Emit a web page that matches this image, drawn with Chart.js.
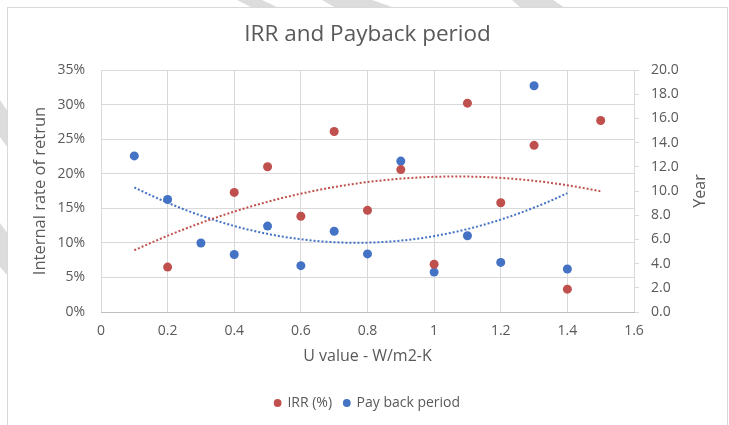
<!DOCTYPE html>
<html>
<head>
<meta charset="utf-8">
<title>IRR and Payback period</title>
<script src="https://cdn.jsdelivr.net/npm/chart.js@4.4.0/dist/chart.umd.min.js"></script>
<style>
  html, body { margin: 0; padding: 0; background: #fff; }
  #wrap { position: relative; width: 729px; height: 425px; overflow: hidden; }
  #marks { position: absolute; left: 0; top: 0; }
  #frame { position: absolute; left: 7px; top: 7px; width: 721px; height: 430px; border: 1px solid #d9d9d9; background: #fff; box-sizing: border-box; }
  #chart-area { position: absolute; left: 0; top: 0; }
</style>
</head>
<body>
<div id="wrap">
  <svg id="marks" width="729" height="425">
    <g fill="#dcdcdc">
      <polygon points="237,0 262,0 279,8 253,8"/>
      <polygon points="322,0 372,0 395,8 336,8"/>
      <polygon points="512,0 553,0 565,8 521,8"/>
      <polygon points="0,100 8,112 8,148 0,137"/>
      <polygon points="0,223 8,234 8,276 0,267"/>
    </g>
  </svg>
  <div id="frame"></div>
  <canvas id="chart-area" width="729" height="425"></canvas>
</div>
<script>
// U value (W/m2-K) for each case
var uValues = [0.1, 0.2, 0.3, 0.4, 0.5, 0.6, 0.7, 0.8, 0.9, 1.0, 1.1, 1.2, 1.3, 1.4, 1.5];
// IRR in %, left axis
var irrValues = [null, 6.5, null, 17.3, 21.0, 13.85, 26.1, 14.7, 20.6, 6.9, 30.2, 15.8, 24.1, 3.3, 27.7];
// pay back period in years, right axis
var paybackValues = [12.9, 9.3, 5.7, 4.75, 7.1, 3.83, 6.67, 4.8, 12.47, 3.3, 6.3, 4.1, 18.7, 3.55, null];
// x range covered by each trendline
var irrTrendSpan = [0.1, 1.5];
var paybackTrendSpan = [0.1, 1.4];

var red = "#C0504D";
var blue = "#4472C4";
var grey = "#595959";
var fontFamily = "'Open Sans', sans-serif";

var toPoints = function (xs, ys) {
    var pts = [];
    for (var i = 0; i < xs.length; i++) {
        if (ys[i] !== null) pts.push({ x: xs[i], y: ys[i] });
    }
    return pts;
};

// 2nd order polynomial least squares fit, sampled over the span
var polyTrend = function (pts, span) {
    var s = [0, 0, 0, 0, 0], t = [0, 0, 0];
    pts.forEach(function (p) {
        for (var k = 0; k < 5; k++) s[k] += Math.pow(p.x, k);
        for (var k = 0; k < 3; k++) t[k] += Math.pow(p.x, k) * p.y;
    });
    var m = [[s[0], s[1], s[2], t[0]], [s[1], s[2], s[3], t[1]], [s[2], s[3], s[4], t[2]]];
    for (var i = 0; i < 3; i++) {
        for (var j = i + 1; j < 3; j++) {
            var f = m[j][i] / m[i][i];
            for (var k = i; k < 4; k++) m[j][k] -= f * m[i][k];
        }
    }
    var c = [0, 0, 0];
    for (var i = 2; i >= 0; i--) {
        var v = m[i][3];
        for (var k = i + 1; k < 3; k++) v -= m[i][k] * c[k];
        c[i] = v / m[i][i];
    }
    var out = [];
    var steps = 60;
    for (var n = 0; n <= steps; n++) {
        var x = span[0] + (span[1] - span[0]) * n / steps;
        out.push({ x: x, y: c[0] + c[1] * x + c[2] * x * x });
    }
    return out;
};

var irrPoints = toPoints(uValues, irrValues);
var paybackPoints = toPoints(uValues, paybackValues);

// "Year" reads bottom to top, like the left title
var rightTitle = {
    id: 'rightTitle',
    afterDraw: function (chart) {
        var sc = chart.scales.y1;
        var ctx = chart.ctx;
        ctx.save();
        ctx.translate(sc.right - 27, (sc.top + sc.bottom) / 2);
        ctx.rotate(-Math.PI / 2);
        ctx.font = "16px " + fontFamily;
        ctx.fillStyle = grey;
        ctx.textAlign = 'center';
        ctx.textBaseline = 'middle';
        ctx.fillText('Year', 0, 0);
        ctx.restore();
    }
};

var config = {
    type: 'scatter',
    data: {
        datasets: [{
                label: 'IRR (%)',
                data: irrPoints,
                yAxisID: 'y',
                backgroundColor: red,
                borderColor: red,
                pointRadius: 4.5,
                borderWidth: 0
            }, {
                label: 'Pay back period',
                data: paybackPoints,
                yAxisID: 'y1',
                backgroundColor: blue,
                borderColor: blue,
                pointRadius: 4.5,
                borderWidth: 0
            }, {
                label: 'irr trend',
                data: polyTrend(irrPoints, irrTrendSpan),
                yAxisID: 'y',
                showLine: true,
                pointRadius: 0,
                borderColor: red,
                borderWidth: 2,
                borderDash: [2, 2],
                fill: false
            }, {
                label: 'payback trend',
                data: polyTrend(paybackPoints, paybackTrendSpan),
                yAxisID: 'y1',
                showLine: true,
                pointRadius: 0,
                borderColor: blue,
                borderWidth: 2,
                borderDash: [2, 2],
                fill: false
            }]
    },
    options: {
        responsive: false,
        animation: false,
        layout: { padding: { left: 8, right: 2, top: 10, bottom: 5 } },
        plugins: {
            tooltip: { enabled: false },
            title: {
                display: true,
                text: 'IRR and Payback period',
                color: grey,
                font: { family: fontFamily, size: 22.5, weight: 'normal' },
                padding: { top: 11.5, bottom: 21.5 }
            },
            legend: {
                display: true,
                position: 'bottom',
                labels: {
                    color: grey,
                    font: { family: fontFamily, size: 14 },
                    usePointStyle: true,
                    pointStyle: 'circle',
                    boxWidth: 5.5,
                    boxHeight: 5.5,
                    padding: 12,
                    filter: function (item) { return item.datasetIndex < 2; }
                }
            }
        },
        scales: {
            x: {
                type: 'linear',
                min: 0,
                max: 1.6,
                afterFit: function (sc) { sc.height = 72; },
                ticks: {
                    stepSize: 0.2,
                    color: grey,
                    padding: 11,
                    font: { family: fontFamily, size: 14 },
                    callback: function (v) { return String(Number(v.toFixed(1))); }
                },
                grid: { color: '#d9d9d9', drawTicks: false },
                border: { color: '#bfbfbf' },
                title: {
                    display: true,
                    text: 'U value - W/m2-K',
                    color: grey,
                    font: { family: fontFamily, size: 16 },
                    padding: { top: 0, bottom: 18 }
                }
            },
            y: {
                position: 'left',
                min: 0,
                max: 35,
                afterFit: function (sc) { sc.width = 93; },
                ticks: {
                    stepSize: 5,
                    color: grey,
                    padding: 16,
                    font: { family: fontFamily, size: 14 },
                    callback: function (v) { return v + '%'; }
                },
                grid: { color: '#d9d9d9', drawTicks: false },
                border: { display: false },
                title: {
                    display: true,
                    text: 'Internal rate of retrun',
                    color: grey,
                    font: { family: fontFamily, size: 16.5 },
                    padding: { top: 22, bottom: 0 }
                }
            },
            y1: {
                position: 'right',
                min: 0,
                max: 20,
                afterFit: function (sc) { sc.width = 93; },
                ticks: {
                    stepSize: 2,
                    color: grey,
                    padding: 12,
                    font: { family: fontFamily, size: 14 },
                    callback: function (v) { return v.toFixed(1); }
                },
                grid: { color: '#d9d9d9', drawOnChartArea: false, drawTicks: true, tickLength: 5 },
                border: { display: false }
            }
        }
    },
    plugins: [rightTitle]
};

var ctx = document.getElementById("chart-area").getContext("2d");
var myScatter = new Chart(ctx, config);
</script>
</body>
</html>
